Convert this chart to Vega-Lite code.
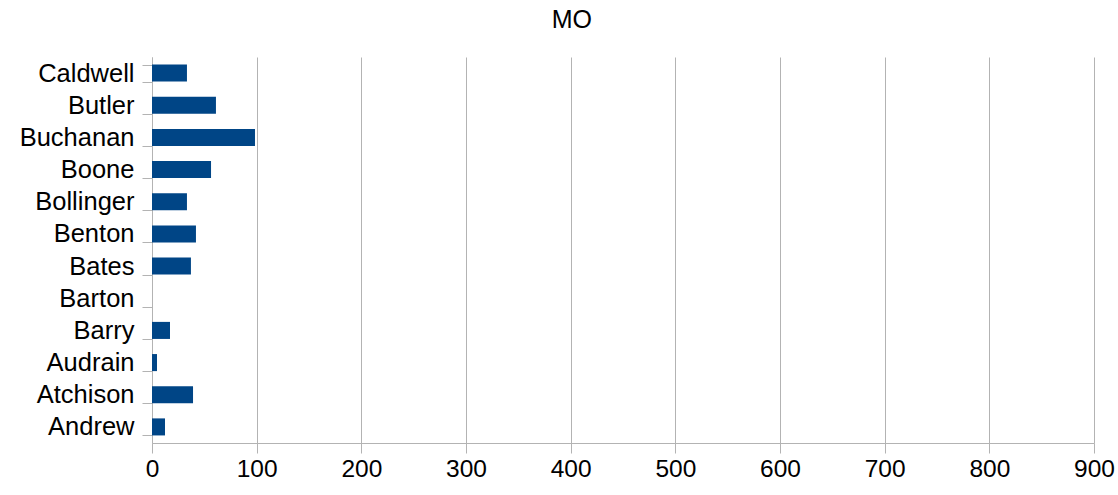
{
  "$schema": "https://vega.github.io/schema/vega-lite/v6.json",
  "width": 942,
  "height": 386,
  "autosize": {"type": "none"},
  "padding": {"left": 152, "top": 57, "right": 24, "bottom": 52},
  "background": "white",
  "title": {"text": "MO", "font": "Liberation Sans", "fontSize": 25, "fontWeight": "normal", "color": "#000000", "anchor": "middle", "frame": "bounds", "offset": 12, "dx": 5},
  "data": {"values": [
    {"county": "Caldwell", "value": 33.4},
    {"county": "Butler", "value": 61.1},
    {"county": "Buchanan", "value": 98.4},
    {"county": "Boone", "value": 56.4},
    {"county": "Bollinger", "value": 33.4},
    {"county": "Benton", "value": 42},
    {"county": "Bates", "value": 37.2},
    {"county": "Barton", "value": 0},
    {"county": "Barry", "value": 17.2},
    {"county": "Audrain", "value": 4.8},
    {"county": "Atchison", "value": 39.2},
    {"county": "Andrew", "value": 12.4}
  ]},
  "mark": {"type": "bar", "color": "#004586"},
  "encoding": {
    "y": {"field": "county", "type": "nominal", "sort": null,
      "scale": {"paddingInner": 0.47, "paddingOuter": 0.235},
      "axis": {"title": null, "labelFont": "Liberation Sans", "labelFontSize": 25.5, "labelColor": "#000000", "labelPadding": 8,
        "tickBand": "extent", "tickSize": 10, "tickColor": "#b3b3b3", "domainColor": "#b3b3b3", "grid": false}},
    "x": {"field": "value", "type": "quantitative",
      "scale": {"domain": [0, 900], "nice": false},
      "axis": {"title": null, "values": [0,100,200,300,400,500,600,700,800,900], "labelFont": "Liberation Sans", "labelFontSize": 24.5, "labelColor": "#000000", "labelPadding": 4,
        "tickSize": 10, "tickColor": "#b3b3b3", "domainColor": "#b3b3b3", "gridColor": "#b3b3b3", "labelFlush": false}}
  },
  "config": {"view": {"stroke": null}}
}
